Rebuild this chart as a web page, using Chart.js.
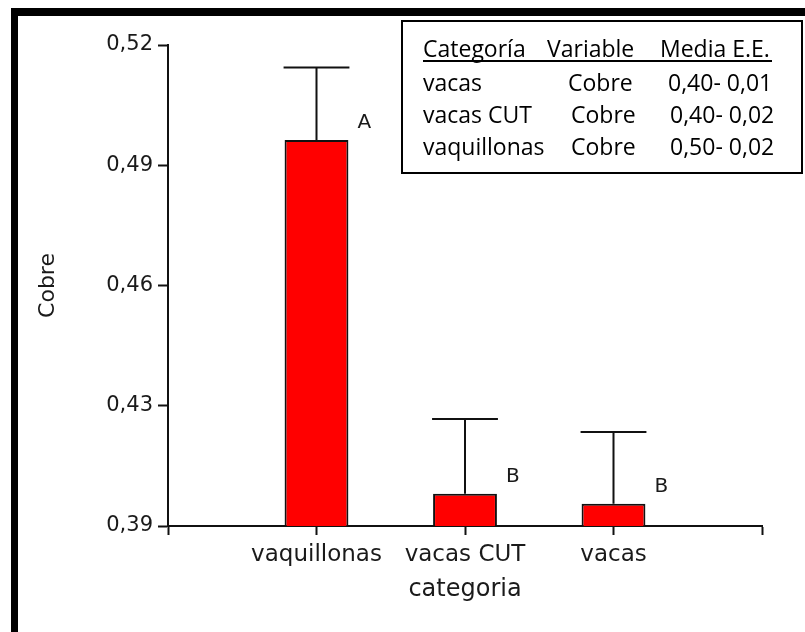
<!DOCTYPE html>
<html>
<head>
<meta charset="utf-8">
<script src="https://cdn.jsdelivr.net/npm/chart.js@4.4.1/dist/chart.umd.min.js"></script>
<style>
html,body{margin:0;padding:0;background:#fff;}
#frame{position:absolute;left:11px;top:8px;width:800px;height:630px;border-top:8px solid #000;border-left:7px solid #000;}
#wrap{position:absolute;left:0;top:0;width:805px;height:632px;}
</style>
</head>
<body>
<div id="frame"></div>
<div id="wrap"><canvas id="chart" width="805" height="632"></canvas></div>
<script>
/* data */
const categories=["","vaquillonas","vacas CUT","vacas",""];
const means=[null,0.4943,0.3987,0.3960,null];
const errTops=[null,0.5139,0.4189,0.4154,null];
const letters=["","A","B","B",""];
const yTickValues=[0.39,0.4225,0.455,0.4875,0.52];
const yTickLabels=["0,39","0,43","0,46","0,49","0,52"];
const tableHead=["Categoría","Variable","Media E.E."];
const tableCat=["vacas","vacas CUT","vaquillonas"];
const tableVar=["Cobre","Cobre","Cobre"];
const tableMedia=["0,40- 0,01","0,40- 0,02","0,50- 0,02"];

const INK="#1a1a1a";
Chart.defaults.font.family="'DejaVu Sans', sans-serif";
Chart.defaults.color=INK;

const errorBars={id:"errorBars",afterDatasetsDraw(c){
  const ctx=c.ctx, y=c.scales.y, meta=c.getDatasetMeta(0);
  ctx.save(); ctx.strokeStyle="#111"; ctx.lineWidth=2;
  meta.data.forEach((el,i)=>{ if(errTops[i]==null) return;
    const top=y.getPixelForValue(errTops[i]), h=el.width/2+1;
    ctx.beginPath(); ctx.moveTo(el.x,el.y); ctx.lineTo(el.x,top);
    ctx.moveTo(el.x-h,top); ctx.lineTo(el.x+h,top); ctx.stroke();
    ctx.fillStyle=INK; ctx.font="20px 'DejaVu Sans'"; ctx.textAlign="center"; ctx.textBaseline="middle";
    ctx.fillText(letters[i],el.x+el.width/2+16,el.y-17);
  });
  ctx.restore();
}};

const table={id:"table",afterDraw(c){
  const ctx=c.ctx; ctx.save();
  ctx.fillStyle="#fff"; ctx.fillRect(402,21,400,152);
  ctx.strokeStyle="#000"; ctx.lineWidth=2; ctx.strokeRect(402,21,400,152);
  ctx.fillStyle="#000"; ctx.font="23px 'Open Sans'"; ctx.textAlign="left"; ctx.textBaseline="alphabetic";
  const hx=[423,547,660]; tableHead.forEach((t,i)=>ctx.fillText(t,hx[i],57));
  ctx.fillRect(423,60,349,2);
  const base=[91,123,155], vx=[568,571,571], mx=[668,670,670];
  tableCat.forEach((t,i)=>{ctx.fillText(t,423,base[i]);ctx.fillText(tableVar[i],vx[i],base[i]);ctx.fillText(tableMedia[i],mx[i],base[i]);});
  ctx.restore();
}};

new Chart(document.getElementById("chart"),{
  type:"bar",
  data:{labels:categories,datasets:[{data:means,backgroundColor:"#ff0000",borderColor:"#111",borderWidth:2,borderSkipped:"bottom",barPercentage:0.43,categoryPercentage:1}]},
  options:{
    responsive:false,animation:false,
    layout:{padding:{left:0,top:45,right:43,bottom:0}},
    plugins:{legend:{display:false},tooltip:{enabled:false}},
    scales:{
      x:{offset:false,
        grid:{offset:false,drawOnChartArea:false,drawTicks:true,tickLength:9,tickWidth:2,tickColor:"#111"},
        border:{display:true,color:"#111",width:2},
        ticks:{font:{size:23},color:INK,padding:6,maxRotation:0,autoSkip:false},
        title:{display:true,text:"categoria",font:{size:24},color:INK,padding:{top:0,bottom:28}},
        afterFit(s){s.height=106;}
      },
      y:{min:0.39,max:0.52,
        afterBuildTicks(s){s.ticks=yTickValues.map(v=>({value:v}));},
        grid:{drawOnChartArea:false,drawTicks:true,tickLength:10,tickWidth:2,tickColor:"#111"},
        border:{display:true,color:"#111",width:2},
        ticks:{font:{size:21},color:INK,padding:5,callback:(v,i)=>yTickLabels[i]},
        title:{display:true,text:"Cobre",font:{size:22},color:INK,padding:{top:35,bottom:0}},
        afterFit(s){s.width=168;}
      }
    }
  },
  plugins:[errorBars,table]
});
</script>
</body>
</html>
